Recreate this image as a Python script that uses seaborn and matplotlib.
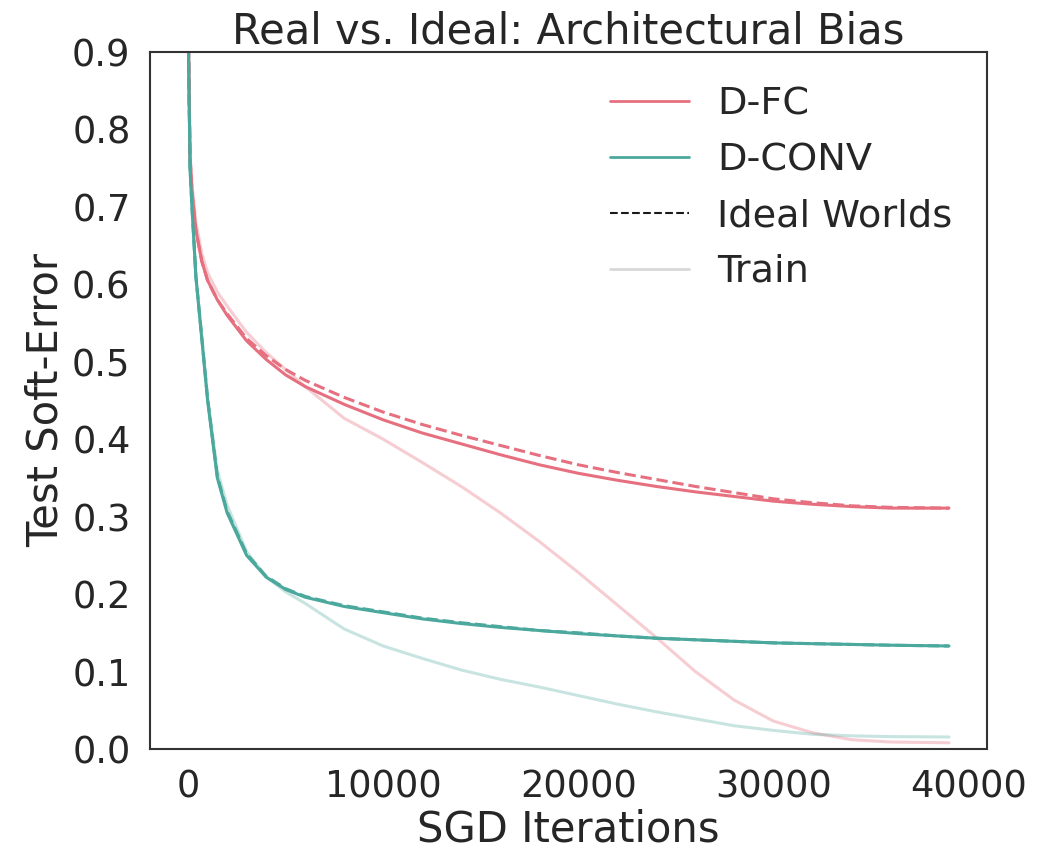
import numpy as np
import pandas as pd
import matplotlib
matplotlib.use("Agg")
import matplotlib.pyplot as plt
from matplotlib.lines import Line2D
import seaborn as sns

iters = [0, 100, 200, 400, 700, 1000, 1500, 2000, 3000, 4000, 5000, 6000, 8000, 10000,
         12000, 14000, 16000, 18000, 20000, 22000, 24000, 26000, 28000, 30000, 32000,
         34000, 36000, 39000]

# D-FC (fully connected)
fc_test = [0.95, 0.765, 0.72, 0.67, 0.63, 0.605, 0.58, 0.56, 0.527, 0.503, 0.483, 0.468,
           0.445, 0.425, 0.408, 0.394, 0.380, 0.367, 0.356, 0.347, 0.339, 0.332, 0.326,
           0.320, 0.316, 0.313, 0.311, 0.311]
fc_ideal = [0.95, 0.765, 0.72, 0.67, 0.63, 0.605, 0.58, 0.562, 0.530, 0.508, 0.490, 0.476,
            0.454, 0.435, 0.419, 0.405, 0.392, 0.379, 0.367, 0.357, 0.348, 0.339, 0.331,
            0.323, 0.318, 0.314, 0.312, 0.311]
fc_train = [0.95, 0.77, 0.73, 0.68, 0.64, 0.615, 0.59, 0.572, 0.538, 0.512, 0.490, 0.468,
            0.427, 0.400, 0.370, 0.339, 0.305, 0.268, 0.228, 0.186, 0.144, 0.100, 0.063,
            0.036, 0.021, 0.012, 0.009, 0.008]

# D-CONV (convolutional)
conv_test = [0.95, 0.75, 0.70, 0.61, 0.53, 0.45, 0.35, 0.305, 0.250, 0.222, 0.206, 0.196,
             0.184, 0.176, 0.168, 0.162, 0.157, 0.153, 0.149, 0.146, 0.143, 0.141, 0.139,
             0.137, 0.136, 0.135, 0.134, 0.133]
conv_ideal = [0.95, 0.75, 0.70, 0.61, 0.532, 0.452, 0.352, 0.307, 0.252, 0.223, 0.207, 0.197,
              0.185, 0.177, 0.169, 0.163, 0.158, 0.153, 0.150, 0.146, 0.143, 0.141, 0.139,
              0.137, 0.136, 0.135, 0.134, 0.133]
conv_train = [0.95, 0.75, 0.70, 0.61, 0.535, 0.455, 0.36, 0.315, 0.255, 0.222, 0.203, 0.188,
              0.155, 0.133, 0.117, 0.102, 0.090, 0.080, 0.069, 0.058, 0.048, 0.039, 0.030,
              0.024, 0.019, 0.017, 0.016, 0.0155]

sns.set_theme(style="white", font_scale=2.5)
plt.rcParams['font.family'] = ['DejaVu Sans']

fc_color = '#e6707f'
conv_color = '#4aa89c'

df = pd.DataFrame({
    'iter': iters,
    'fc_test': fc_test, 'fc_ideal': fc_ideal, 'fc_train': fc_train,
    'conv_test': conv_test, 'conv_ideal': conv_ideal, 'conv_train': conv_train,
})

fig = plt.figure(figsize=(10.47, 8.49), dpi=100)
ax = fig.add_axes([0.1433, 0.1178, 0.7994, 0.8210])

# train curves (faded)
sns.lineplot(data=df, x='iter', y='fc_train', color=fc_color, alpha=0.35, lw=2.2, ax=ax)
sns.lineplot(data=df, x='iter', y='conv_train', color=conv_color, alpha=0.3, lw=2.2, ax=ax)

# ideal world curves (dashed)
sns.lineplot(data=df, x='iter', y='fc_ideal', color=fc_color, lw=2.2, ls='--', ax=ax)
sns.lineplot(data=df, x='iter', y='conv_ideal', color=conv_color, lw=2.2, ls='--', ax=ax)

# real test curves
sns.lineplot(data=df, x='iter', y='fc_test', color=fc_color, lw=2.2, ax=ax)
sns.lineplot(data=df, x='iter', y='conv_test', color=conv_color, lw=2.2, ax=ax)

ax.set_ylim(0, 0.9)
ax.set_yticks(np.arange(0, 0.91, 0.1))
ax.set_xticks([0, 10000, 20000, 30000, 40000])
ax.tick_params(axis='both', labelsize=26.5, pad=8)
for s in ax.spines.values():
    s.set_linewidth(1.5)
    s.set_color('.2')

ax.set_title('Real vs. Ideal: Architectural Bias', fontsize=30)
ax.set_xlabel('SGD Iterations', fontsize=30, labelpad=2)
ax.set_ylabel('Test Soft-Error', fontsize=30)

handles = [
    Line2D([0], [0], color=fc_color, lw=2),
    Line2D([0], [0], color=conv_color, lw=2),
    Line2D([0], [0], color='k', lw=1.5, ls='--'),
    Line2D([0], [0], color='gray', lw=2, alpha=0.3),
]
ax.legend(handles, ['D-FC', 'D-CONV', 'Ideal Worlds', 'Train'], loc='upper right',
          frameon=False, fontsize=27.5, handlelength=2.05, handletextpad=0.75,
          borderaxespad=0.5, labelspacing=0.52)

fig.savefig('out.png', dpi=100)
